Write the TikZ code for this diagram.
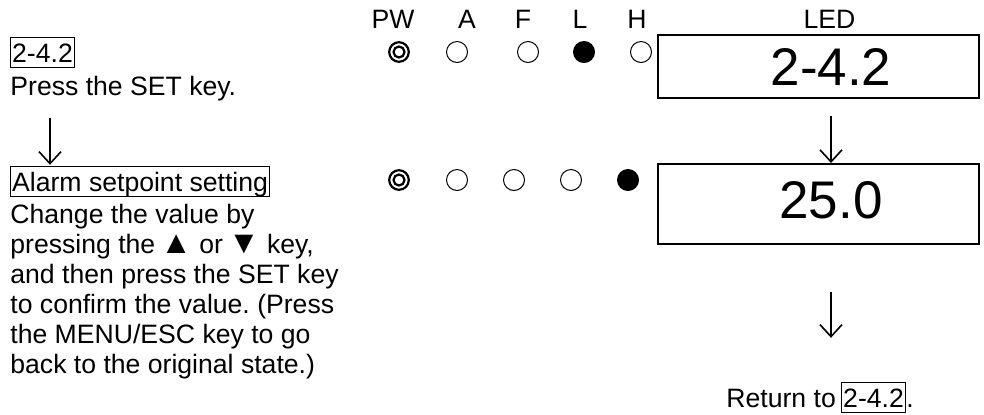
\documentclass[tikz,border=0pt]{standalone}
\usepackage{fontspec}
\setmainfont{Liberation Sans}
\usetikzlibrary{arrows.meta, positioning, calc}
\frenchspacing
\newcommand{\bodyfont}{\fontsize{13.3}{15}\selectfont}
\newcommand{\ledfont}{\fontsize{26.5}{30}\selectfont}
\newcommand{\keytri}[1]{\kern-1.2pt{\fontsize{16}{15}\selectfont #1}}
\tikzset{
  ledoff/.style={circle, draw, line width=0.5pt, minimum size=10.5pt, inner sep=0pt},
  ledpw/.style={circle, draw, line width=1.1pt, minimum size=9.8pt, inner sep=0pt,
    path picture={\draw[line width=1.1pt] (path picture bounding box.center) circle (2.75pt);}},
  tagbox/.style={draw, line width=0.6pt, inner xsep=0.8pt, inner ysep=0.3pt,
    text height=12pt, text depth=2.5pt},
  ledbox/.style={draw, line width=1pt, minimum width=160.5pt},
  flowarrow/.style={-{Straight Barb[length=6pt,width=11pt]}, line width=0.8pt},
}

\begin{document}
\begin{tikzpicture}[x=0.5pt, y=-0.5pt, font=\bodyfont]
    \useasboundingbox (0,0) rectangle (984,414);

    % Column heads
    \node[anchor=base] (hpw) at (393,28) {PW};
    \node[anchor=base] (ha) at (467,28) {A};
    \node[anchor=base] (hf) at (523,28) {F};
    \node[anchor=base] (hl) at (580,28) {L};
    \node[anchor=base] (hh) at (637,28) {H};
    \node[anchor=base] (hled) at (829.5,28) {LED};

    % Step 2-4.2
    \node[tagbox, anchor=base west] (tag1) at (10,62) {2-4.2};
    \node[anchor=base west, inner sep=0pt] (press) at (10,95) {Press the SET key.};
    \node[ledpw] (pw1) at (399,52) {};
    \foreach \x/\f [count=\i] in {457/white, 528/white, 584/black, 641/white}
      \node[ledoff, fill=\f] (row1led\i) at (\x,52) {};
    \node[ledbox, minimum height=31.5pt] (led1) at (818.5,66.5) {};
    \node[font=\ledfont, anchor=base, inner sep=0pt] (ledtxt1) at (831,85) {2-4.2};

    % Alarm setpoint
    \node[tagbox, anchor=base west] (alarm) at (10,191) {Alarm setpoint setting};
    \node[anchor=base west, align=left, inner sep=0pt] (desc) at (10,373)
      {Change the value by\\pressing the \keytri{▲} or \keytri{▼} key,\\and then press the SET key\\to confirm the value. (Press\\the MENU/ESC key to go\\back to the original state.)};
    \node[ledpw] (pw2) at (399,180) {};
    \foreach \x/\f [count=\i] in {457/white, 514/white, 571/white, 628/black}
      \node[ledoff, fill=\f] (row2led\i) at (\x,180) {};
    \node[ledbox, minimum height=40pt] (led2) at (818.5,204) {};
    \node[font=\ledfont, anchor=base, inner sep=0pt] (ledtxt2) at (831,218) {25.0};

    % Back to start
    \node[anchor=base west, inner sep=0pt] (ret) at (726,407) {Return to};
    \node[tagbox, anchor=base west] (rettag) at (841,407) {2-4.2};
    \node[anchor=base west, inner sep=0pt] (retdot) at (rettag.base east) {.};

    % Arrows
    \draw[flowarrow] ($(press.south west)+(40,17)$) -- ($(alarm.north west)+(40,-1)$);
    \draw[flowarrow] ($(led1.south -| ledtxt1)+(0,17)$) -- (led2.north -| ledtxt1);
    \draw[flowarrow] ($(led2.south -| ledtxt2)+(0,47)$) -- ($(rettag.north -| ledtxt2)+(0,-44)$);
\end{tikzpicture}
\end{document}
